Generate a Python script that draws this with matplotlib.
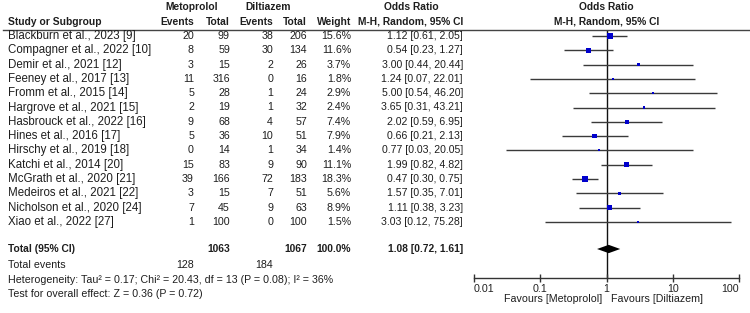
import matplotlib
matplotlib.use("Agg")
import matplotlib.pyplot as plt
import matplotlib.transforms as mtransforms
from matplotlib.lines import Line2D

plt.rcParams['font.family'] = ['Liberation Sans', 'DejaVu Sans']

studies = ["Blackburn et al., 2023 [9]", "Compagner et al., 2022 [10]", "Demir et al., 2021 [12]",
           "Feeney et al., 2017 [13]", "Fromm et al., 2015 [14]", "Hargrove et al., 2021 [15]",
           "Hasbrouck et al., 2022 [16]", "Hines et al., 2016 [17]", "Hirschy et al., 2019 [18]",
           "Katchi et al., 2014 [20]", "McGrath et al., 2020 [21]", "Medeiros et al., 2021 [22]",
           "Nicholson et al., 2020 [24]", "Xiao et al., 2022 [27]"]
met_events = [20, 8, 3, 11, 5, 2, 9, 5, 0, 15, 39, 3, 7, 1]
met_total = [99, 59, 15, 316, 28, 19, 68, 36, 14, 83, 166, 15, 45, 100]
dil_events = [38, 30, 2, 0, 1, 1, 4, 10, 1, 9, 72, 7, 9, 0]
dil_total = [206, 134, 26, 16, 24, 32, 57, 51, 34, 90, 183, 51, 63, 100]
weights = [15.6, 11.6, 3.7, 1.8, 2.9, 2.4, 7.4, 7.9, 1.4, 11.1, 18.3, 5.6, 8.9, 1.5]
odds = [1.12, 0.54, 3.00, 1.24, 5.00, 3.65, 2.02, 0.66, 0.77, 1.99, 0.47, 1.57, 1.11, 3.03]
ci_lo = [0.61, 0.23, 0.44, 0.07, 0.54, 0.31, 0.59, 0.21, 0.03, 0.82, 0.30, 0.35, 0.38, 0.12]
ci_hi = [2.05, 1.27, 20.44, 22.01, 46.20, 43.21, 6.95, 2.13, 20.05, 4.82, 0.75, 7.01, 3.23, 75.28]

pooled_or, pooled_lo, pooled_hi = 1.08, 0.72, 1.61
total_met, total_dil = 1063, 1067
events_met, events_dil = 128, 184
tick_vals = [0.01, 0.1, 1, 10, 100]
tick_labels = ["0.01", "0.1", "1", "10", "100"]
heterogeneity = "Heterogeneity: Tau\u00b2 = 0.17; Chi\u00b2 = 20.43, df = 13 (P = 0.08); I\u00b2 = 36%"
overall = "Test for overall effect: Z = 0.36 (P = 0.72)"

W, H = 750, 313
fig = plt.figure(figsize=(W / 100, H / 100), dpi=100)
fig.patch.set_facecolor('white')

row_h = 14.3
y0 = 36.0
def ypix(p):
    return (p - y0) / row_h

tc = '#1e1e1e'
fs_name = 8.3
fs_num = 7.7
fs_or = 7.55
fs_foot = 7.7
fsb = 7.4

ax = fig.add_axes([474 / W, 0, 265 / W, 1])
ax.set_xscale('log')
ax.set_xlim(0.01, 100)
ax.set_ylim(ypix(H), ypix(0))
ax.patch.set_alpha(0)
for s in ['top', 'left', 'right']:
    ax.spines[s].set_visible(False)
axis_y = ypix(277.7)
ax.spines['bottom'].set_position(('data', axis_y))
ax.spines['bottom'].set_bounds(0.01, 100)
ax.spines['bottom'].set_color('#333333')
ax.spines['bottom'].set_linewidth(1.0)
ax.set_yticks([])
ax.set_xticks(tick_vals)
ax.set_xticklabels(tick_labels)
ax.xaxis.set_minor_locator(matplotlib.ticker.NullLocator())
ax.tick_params(axis='x', direction='inout', length=6, width=1.0, color='#333333',
               labelsize=fs_foot, pad=1.8, labelcolor='#222222')
xt = ax.get_xticklabels()
xt[0].set_horizontalalignment('left')
xt[-1].set_horizontalalignment('right')

rows = list(range(len(studies)))
total_y = ypix(249)
header_rule_y = ypix(29.5)

ax.vlines(1, header_rule_y, axis_y, color='#111111', lw=1.0, zorder=1)
ax.hlines(rows, ci_lo, ci_hi, color='#3a3a3a', lw=1.0, zorder=2)
ax.scatter(odds, rows, s=[max(w * 1.1, 2.2) for w in weights], marker='s',
           color='#0000CC', zorder=3, linewidths=0)
dh = 0.29
ax.fill([pooled_lo, pooled_or, pooled_hi, pooled_or],
        [total_y, total_y - dh, total_y, total_y + dh], color='black', zorder=3, lw=0)

ax.text(1, ypix(7), "Odds Ratio", ha='center', va='center', fontsize=fsb, fontweight='bold', color=tc)
ax.text(1, ypix(22), "M-H, Random, 95% CI", ha='center', va='center', fontsize=fsb, fontweight='bold', color=tc)
fav_y = ypix(298.5)
ax.annotate("Favours [Metoprolol]", (1, fav_y), xytext=(-3, 0), textcoords='offset points',
            ha='right', va='center', fontsize=fs_foot, color=tc)
ax.annotate("Favours [Diltiazem]", (1, fav_y), xytext=(3.5, 0), textcoords='offset points',
            ha='left', va='center', fontsize=fs_foot, color=tc)

tr = mtransforms.blended_transform_factory(fig.transFigure, ax.transData)
def t(xp, y, s, ha='right', bold=False, size=fs_num):
    fig.text(xp / W, y, s, transform=tr, ha=ha, va='center',
             fontsize=size, fontweight='bold' if bold else 'normal', color=tc)

# header
t(192, ypix(7), "Metoprolol", ha='center', bold=True, size=fsb)
t(268, ypix(7), "Diltiazem", ha='center', bold=True, size=fsb)
t(411, ypix(7), "Odds Ratio", ha='center', bold=True, size=fsb)
h2 = ypix(22)
t(8, h2, "Study or Subgroup", ha='left', bold=True, size=fsb)
t(194, h2, "Events", bold=True, size=fsb)
t(230, h2, "Total", bold=True, size=fsb)
t(273, h2, "Events", bold=True, size=fsb)
t(307, h2, "Total", bold=True, size=fsb)
t(351, h2, "Weight", bold=True, size=fsb)
t(411, h2, "M-H, Random, 95% CI", ha='center', bold=True, size=fsb)

fig.add_artist(Line2D([3 / W, 1], [1 - 29.5 / H, 1 - 29.5 / H], transform=fig.transFigure,
                      color='#444444', lw=1.0))

for i, name in enumerate(studies):
    t(8, i, name, ha='left', size=fs_name)
    t(194, i, str(met_events[i]))
    t(230, i, str(met_total[i]))
    t(273, i, str(dil_events[i]))
    t(307, i, str(dil_total[i]))
    t(351, i, f"{weights[i]:.1f}%")
    t(463, i, f"{odds[i]:.2f} [{ci_lo[i]:.2f}, {ci_hi[i]:.2f}]", size=fs_or)

t(8, total_y, "Total (95% CI)", ha='left', bold=True, size=fsb)
t(230, total_y, str(total_met), bold=True, size=fsb)
t(307, total_y, str(total_dil), bold=True, size=fsb)
t(351, total_y, "100.0%", bold=True, size=fsb)
t(463, total_y, f"{pooled_or:.2f} [{pooled_lo:.2f}, {pooled_hi:.2f}]", bold=True, size=fsb)

ev_y = ypix(265.5)
t(8, ev_y, "Total events", ha='left', size=fs_foot)
t(194, ev_y, str(events_met), size=fs_foot)
t(273, ev_y, str(events_dil), size=fs_foot)
t(8, ypix(280), heterogeneity, ha='left', size=fs_foot)
t(8, ypix(294), overall, ha='left', size=fs_foot)

fig.savefig("out.png", dpi=100, facecolor='white')
